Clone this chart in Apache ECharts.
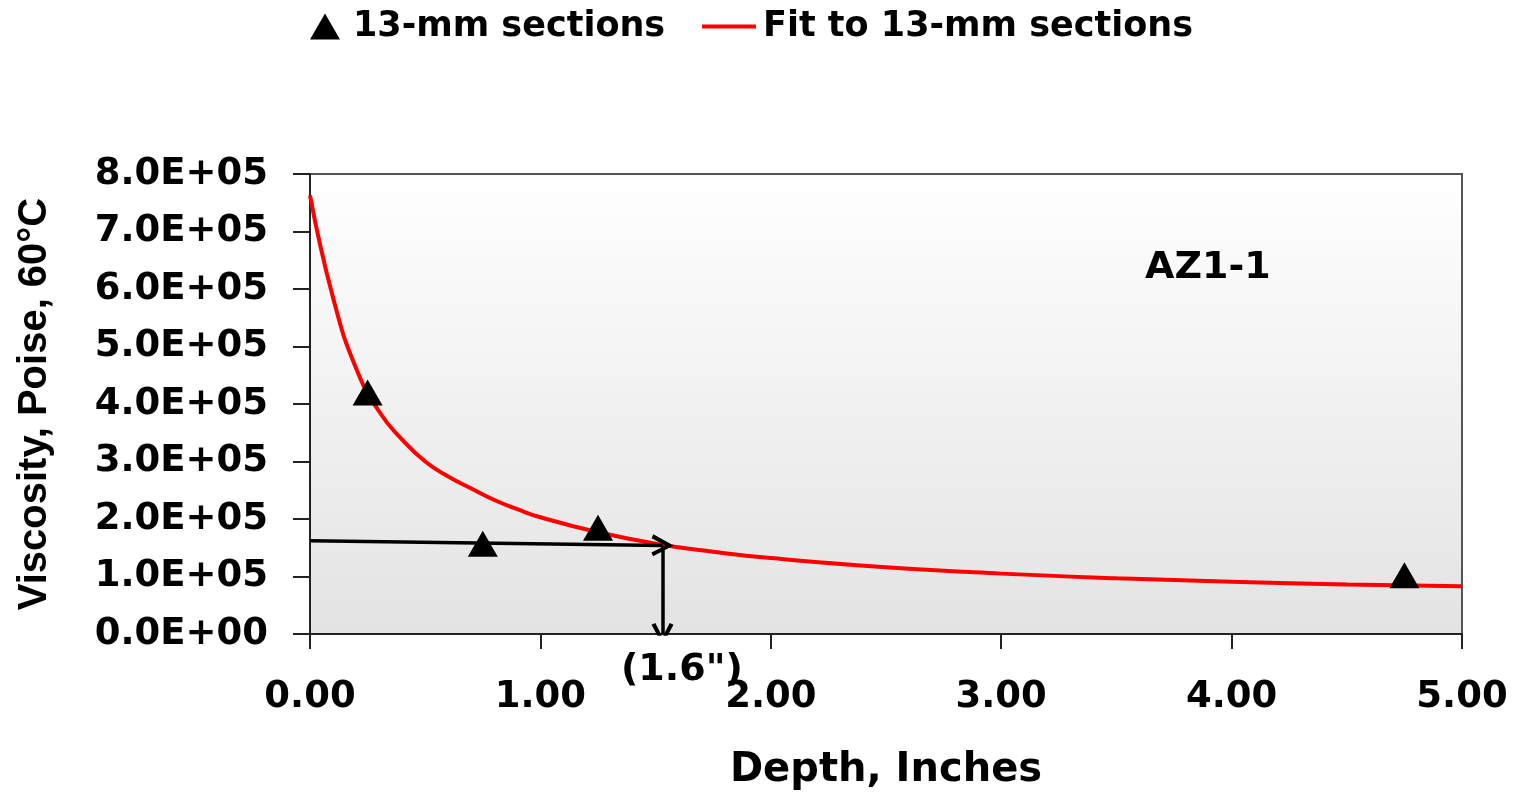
<!DOCTYPE html>
<html>
<head>
<meta charset="UTF-8">
<title>AZ1-1 viscosity</title>
<script src="https://cdn.jsdelivr.net/npm/echarts@6/dist/echarts.min.js"></script>
<style>
html,body{margin:0;padding:0;background:#fff;}
#chart{width:1525px;height:796px;}
</style>
</head>
<body>
<div id="chart"></div>
<script type="text/javascript">
// measured sections (depth in inches, viscosity in poise)
var sectionDepth = [0.25, 0.75, 1.25, 4.75];
var sectionVisc = [4.2e5, 1.57e5, 1.85e5, 1.02e5];

// fitted curve
var fitDepth = [0, 0.1, 0.2, 0.3, 0.4, 0.5, 0.6, 0.7, 0.8, 0.9, 1.0, 1.25, 1.5, 1.75, 2.0, 2.5, 3.0, 3.5, 4.0, 4.5, 5.0];
var fitVisc = [7.63e5, 5.85e5, 4.62e5, 3.87e5, 3.38e5, 3.0e5, 2.74e5, 2.53e5, 2.33e5, 2.17e5, 2.03e5, 1.77e5, 1.57e5, 1.43e5, 1.32e5, 1.16e5, 1.05e5, 0.97e5, 0.91e5, 0.86e5, 0.83e5];

// reading arrow: across to the curve, then down to the axis
var arrowDepth = [0, 1.53, 1.53];
var arrowVisc = [1.62e5, 1.54e5, 0];

var sampleName = 'AZ1-1';
var readLabel = '(1.6")';

function sci(v){
	if(v===0) return '0.0E+00';
	var e=Math.floor(Math.log10(v)+1e-9);
	var m=v/Math.pow(10,e);
	return m.toFixed(1)+'E+'+(e<10?'0':'')+e;
}

var scatterData=[];
for(var i=0;i<sectionDepth.length;i++){
	scatterData.push([sectionDepth[i],sectionVisc[i]]);
}
var fitData=[];
for(var j=0;j<fitDepth.length;j++){
	fitData.push([fitDepth[j],fitVisc[j]]);
}
var arrowData=[];
for(var k=0;k<arrowDepth.length-1;k++){
	arrowData.push({coords:[[arrowDepth[k],arrowVisc[k]],[arrowDepth[k+1],arrowVisc[k+1]]]});
}

// open arrow head, tip at top
var chevron='path://M0,18 L10,0 L20,18 L16.5,19.5 L10,7 L3.5,19.5 Z';
var bold='DejaVu Sans';

var mychart=echarts.init(document.getElementById('chart'));
var option={
	backgroundColor:'#ffffff',
	animation:false,
	textStyle:{fontFamily:bold,fontWeight:'bold',color:'#000'},
	legend:[{
		data:[{name:'13-mm sections',icon:'triangle'}],
		left:305,
		top:4,
		itemWidth:30,
		itemHeight:26,
		itemGap:0,
		textStyle:{fontFamily:bold,fontWeight:'bold',fontSize:35,color:'#000',padding:[0,0,0,8]}
	},{
		data:[{name:'Fit to 13-mm sections',icon:'path://M0,0 L54,0 L54,4 L0,4 Z'}],
		left:697,
		top:4,
		itemWidth:54,
		itemHeight:4,
		textStyle:{fontFamily:bold,fontWeight:'bold',fontSize:35,color:'#000',padding:[0,0,0,2]}
	}],
	grid:{
		left:310,
		right:63,
		top:174,
		bottom:158,
		show:true,
		borderColor:'#555',
		borderWidth:2,
		backgroundColor:{
			type:'linear',x:0,y:0,x2:0,y2:1,
			colorStops:[{offset:0,color:'#ffffff'},{offset:1,color:'#e3e3e3'}]
		}
	},
	xAxis:{
		type:'value',
		min:0,
		max:5,
		interval:1,
		name:'Depth, Inches',
		nameLocation:'middle',
		nameGap:117,
		nameTextStyle:{fontFamily:bold,fontWeight:'bold',fontSize:40,color:'#000'},
		axisLine:{show:true,onZero:false,lineStyle:{color:'#222',width:2}},
		axisTick:{show:true,length:15,lineStyle:{color:'#222',width:2}},
		axisLabel:{
			margin:45,
			fontFamily:bold,fontWeight:'bold',fontSize:37,color:'#000',
			formatter:function(v){return v.toFixed(2);}
		},
		splitLine:{show:false}
	},
	yAxis:{
		type:'value',
		min:0,
		max:8e5,
		interval:1e5,
		name:'Viscosity, Poise, 60°C',
		nameLocation:'middle',
		nameRotate:90,
		nameGap:255,
		nameTextStyle:{fontFamily:'Liberation Sans',fontWeight:'bold',fontSize:40,color:'#000'},
		axisLine:{show:true,onZero:false,lineStyle:{color:'#222',width:2}},
		axisTick:{show:true,length:17,lineStyle:{color:'#222',width:2}},
		axisLabel:{
			margin:42,
			fontFamily:bold,fontWeight:'bold',fontSize:37,color:'#000',
			formatter:sci
		},
		splitLine:{show:false}
	},
	graphic:[{
		type:'text',
		left:1145,
		top:249,
		style:{text:sampleName,fontFamily:bold,fontWeight:'bold',fontSize:38,fill:'#000'}
	},{
		type:'text',
		left:621,
		top:651,
		style:{text:readLabel,fontFamily:bold,fontWeight:'bold',fontSize:38,fill:'#000'}
	}],
	series:[{
		name:'Fit to 13-mm sections',
		type:'line',
		data:fitData,
		smooth:0.5,
		symbol:'none',
		itemStyle:{color:'#ff0000'},
		lineStyle:{color:'#ff0000',width:4},
		z:2
	},{
		name:'arrow',
		type:'lines',
		coordinateSystem:'cartesian2d',
		data:arrowData,
		symbol:['none',chevron],
		symbolSize:[26,22],
		itemStyle:{color:'#000'},
		lineStyle:{color:'#000',width:3.5,opacity:1,curveness:0},
		z:3
	},{
		name:'13-mm sections',
		type:'scatter',
		data:scatterData,
		symbol:'triangle',
		symbolSize:[30,26],
		itemStyle:{color:'#000',opacity:1},
		z:4
	}]
};
mychart.setOption(option);
</script>
</body>
</html>
